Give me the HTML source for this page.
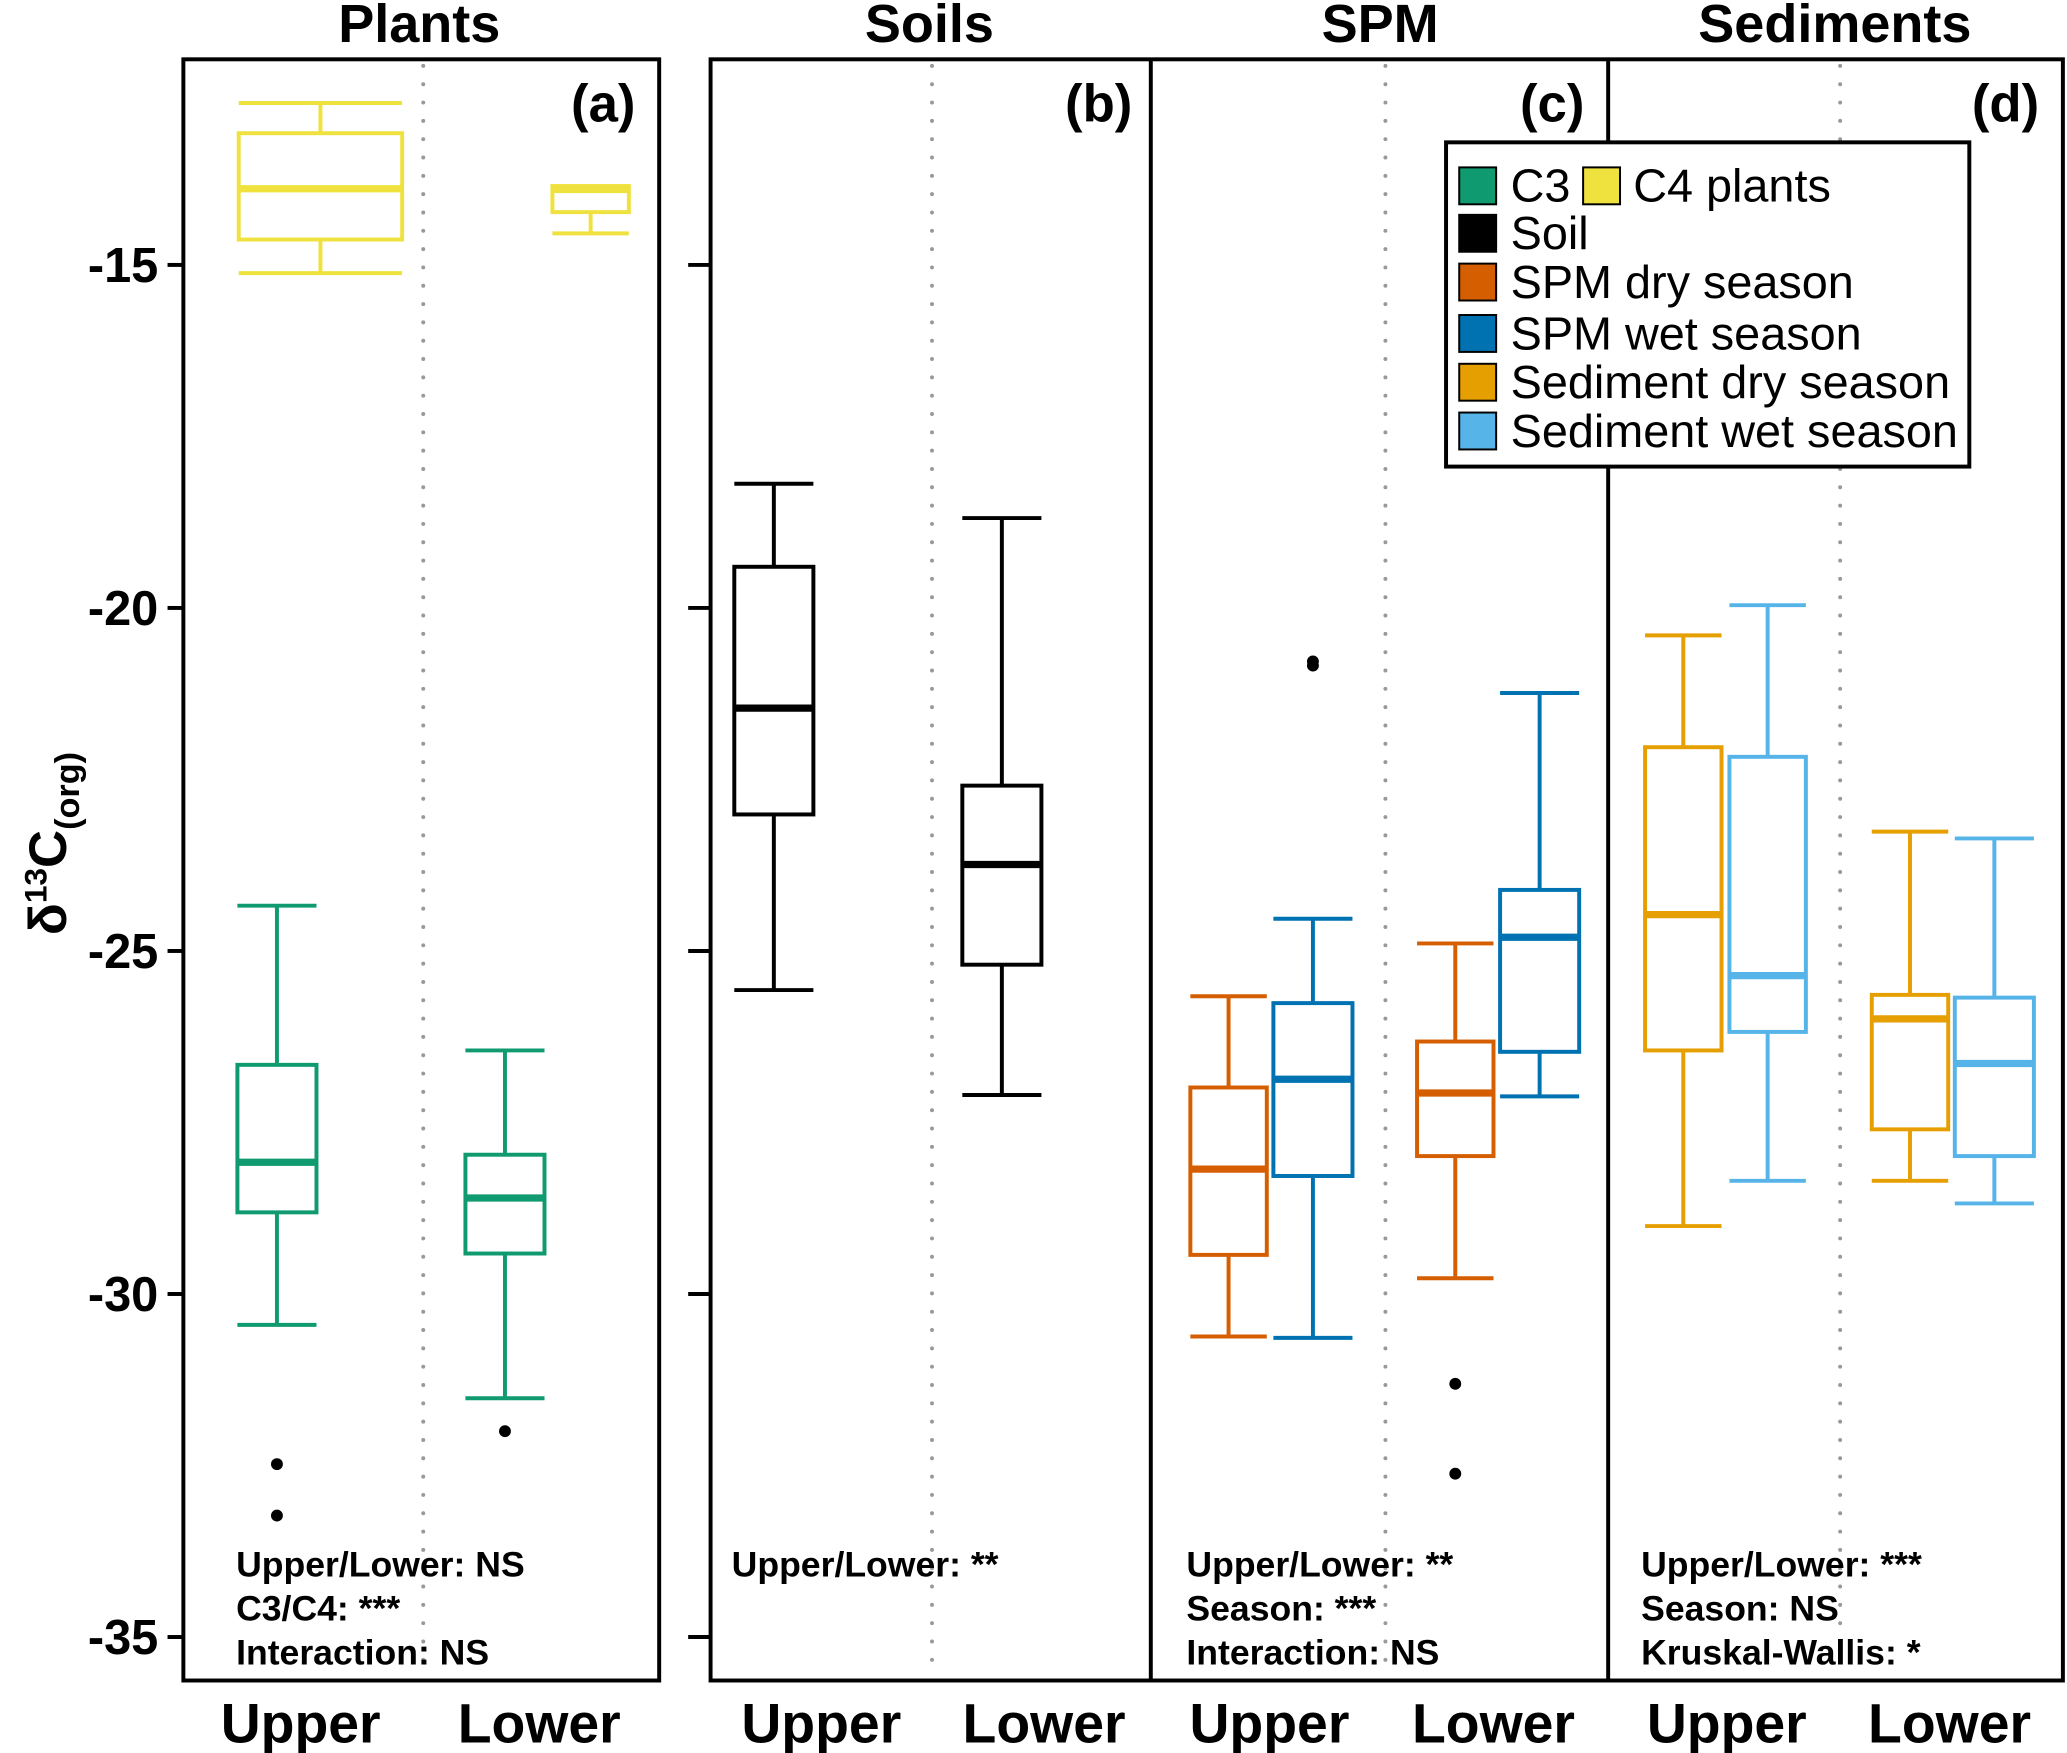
<!DOCTYPE html>
<html><head><meta charset="utf-8">
<style>
html,body{margin:0;padding:0;background:#fff;}
svg{display:block;}
text{font-family:"Liberation Sans",Arial,sans-serif;}
</style></head>
<body>
<svg id="chart" width="2067" height="1753" viewBox="0 0 1568 1330" xmlns="http://www.w3.org/2000/svg">
<rect x="0" y="0" width="1568" height="1330" fill="#fff"/>
</svg>
<script>
// Data arrays: [whiskerHigh, q3, median, q1, whiskerLow]
const groupNames = ["C3 upper","C3 lower","C4 upper","C4 lower","Soil upper","Soil lower","SPM dry upper","SPM wet upper","SPM dry lower","SPM wet lower","Sed dry upper","Sed wet upper","Sed dry lower","Sed wet lower"];
const whiskerHigh = [-24.34,-26.45,-12.64,-13.85,-18.19,-18.69,-25.66,-24.53,-24.89,-21.24,-20.40,-19.96,-23.26,-23.36];
const q3Values     = [-26.66,-27.97,-13.08,-13.85,-19.40,-22.59,-26.99,-25.76,-26.32,-24.11,-22.03,-22.17,-25.64,-25.68];
const medianValues = [-28.08,-28.60,-13.89,-13.90,-21.46,-23.74,-28.18,-26.87,-27.07,-24.80,-24.47,-25.36,-25.99,-26.64];
const q1Values     = [-28.81,-29.41,-14.63,-14.23,-23.01,-25.20,-29.43,-28.28,-27.99,-26.47,-26.45,-26.18,-27.60,-27.99];
const whiskerLow   = [-30.45,-31.52,-15.12,-14.54,-25.57,-27.10,-30.62,-30.64,-29.77,-27.12,-29.01,-28.35,-28.35,-28.68];
const outlierValues = [[-32.48,-33.23],[-32.00],[],[],[],[],[],[-20.78,-20.84],[-31.31,-32.62],[],[],[],[],[]];
const groupColors = ["#0f9a6f","#0f9a6f","#efe23e","#efe23e","#000","#000","#d55e00","#0072b2","#d55e00","#0072b2","#e69f00","#56b4e9","#e69f00","#56b4e9"];
const yTicks = [-15,-20,-25,-30,-35];
const yTickLabels = ["-15","-20","-25","-30","-35"];

// layout (display units)
const boxCenters = [210,383,243,448,587,760,932,996,1104,1168,1277,1341,1449,1513];
const boxHalf = [30,30,62,29,30,30,29,30,29,30,29,29,29,30];
function yScale(v){ return 201 + (-15 - v) * 52.05; }

const svg = document.getElementById('chart');
const NS = "http://www.w3.org/2000/svg";
function el(tag, attrs, parent){
  const e = document.createElementNS(NS, tag);
  for (const k in attrs) e.setAttribute(k, attrs[k]);
  (parent||svg).appendChild(e);
  return e;
}
function txt(x,y,s,size,weight,anchor,parent){
  const t = el('text',{x:x,y:y,'font-size':size,'font-weight':weight,'text-anchor':anchor||'start'},parent);
  t.textContent = s; return t;
}

// panel titles
const titles = [["Plants",318],["Soils",705],["SPM",1047],["Sediments",1392]];
titles.forEach(([s,x])=>{
  const t = txt(x,32,s,41,'bold','middle');
  
  
});

// dotted separators
[321,707,1051,1396].forEach((x,i)=>{
  const l = el('line',{x1:x,y1:50,x2:x,y2:1272,stroke:'#999','stroke-width':3,'stroke-dasharray':'0 13.9','stroke-linecap':'round'});
  
  
});

// frames
const f1 = el('rect',{x:139,y:45,width:361,height:1230,fill:'none',stroke:'#000','stroke-width':3});


const f2 = el('rect',{x:539,y:45,width:1026,height:1230,fill:'none',stroke:'#000','stroke-width':3});


[873,1220].forEach(x=>{
  const d = el('line',{x1:x,y1:45,x2:x,y2:1275,stroke:'#000','stroke-width':3});
  
  
});

// y ticks
yTicks.forEach((v,i)=>{
  const y = yScale(v);
  const t1 = el('line',{x1:127,y1:y,x2:139,y2:y,stroke:'#000','stroke-width':3});
  
  
  const t2 = el('line',{x1:522,y1:y,x2:539,y2:y,stroke:'#000','stroke-width':3});
  
  
  const lb = txt(120,y+13,yTickLabels[i],37,'bold','end');
  
  
});

// y axis title
const yt = el('text',{x:0,y:0,transform:'translate(50,640) rotate(-90)','text-anchor':'middle','font-size':40,'font-weight':'bold'});


yt.innerHTML = 'δ<tspan font-size="24" dy="-15">13</tspan><tspan dy="15">C</tspan><tspan font-size="26" dy="10">(org)</tspan>';

// panel letters
[["(a)",482],["(b)",859],["(c)",1202],["(d)",1547]].forEach(([s,x])=>{
  const t = txt(x,92,s,40,'bold','end');
  
  
});

// boxes
groupNames.forEach((name,i)=>{
  const g = el('g',{});
  
  
  const c = boxCenters[i], h = boxHalf[i], col = groupColors[i];
  const yH = yScale(whiskerHigh[i]), y3 = yScale(q3Values[i]), ym = yScale(medianValues[i]), y1 = yScale(q1Values[i]), yL = yScale(whiskerLow[i]);
  const sw = 3;
  if (yH < y3 - 1) {
    el('line',{x1:c,y1:yH,x2:c,y2:y3,stroke:col,'stroke-width':sw},g);
    el('line',{x1:c-h,y1:yH,x2:c+h,y2:yH,stroke:col,'stroke-width':sw},g);
  }
  el('line',{x1:c,y1:y1,x2:c,y2:yL,stroke:col,'stroke-width':sw},g);
  el('line',{x1:c-h,y1:yL,x2:c+h,y2:yL,stroke:col,'stroke-width':sw},g);
  el('rect',{x:c-h,y:y3,width:2*h,height:y1-y3,fill:'none',stroke:col,'stroke-width':sw},g);
  el('line',{x1:c-h,y1:ym,x2:c+h,y2:ym,stroke:col,'stroke-width':5.5},g);
  outlierValues[i].forEach(v=>{
    const o = el('circle',{cx:c,cy:yScale(v),r:4.5,fill:'#000'},g);
    
    
  });
});

// stats text
const stats = [
  [179,["Upper/Lower: NS","C3/C4: ***","Interaction: NS"]],
  [555,["Upper/Lower: **"]],
  [900,["Upper/Lower: **","Season: ***","Interaction: NS"]],
  [1245,["Upper/Lower: ***","Season: NS","Kruskal-Wallis: *"]]
];
stats.forEach(([x,lines])=>{
  lines.forEach((s,j)=>{
    const t = txt(x,1196+j*33.5,s,27,'bold','start');
    
    
  });
});

// x labels
const xLabels = [["Upper",228],["Lower",409],["Upper",623],["Lower",792],["Upper",963],["Lower",1133],["Upper",1310],["Lower",1479]];
xLabels.forEach(([s,x])=>{
  const t = txt(x,1322,s,42,'bold','middle');
  
  
});

// legend
const lg = el('g',{});


el('rect',{x:1097,y:108,width:397,height:246,fill:'#fff',stroke:'#000','stroke-width':3},lg);
const legendEntries = [
  [1107,141,"#0f9a6f","C3",1146],
  [1201,141,"#efe23e","C4 plants",1239],
  [1107,177,"#000","Soil",1146],
  [1107,214,"#d55e00","SPM dry season",1146],
  [1107,253,"#0072b2","SPM wet season",1146],
  [1107,290,"#e69f00","Sediment dry season",1146],
  [1107,327,"#56b4e9","Sediment wet season",1146]
];
legendEntries.forEach(([sx,cy,col,label,tx])=>{
  const r = el('rect',{x:sx,y:cy-14,width:28,height:28,fill:col,stroke:'#000','stroke-width':1.5},lg);
  
  
  const t = txt(tx,cy+12,label,35.5,'normal','start',lg);
  
  
});
</script>
</body></html>
